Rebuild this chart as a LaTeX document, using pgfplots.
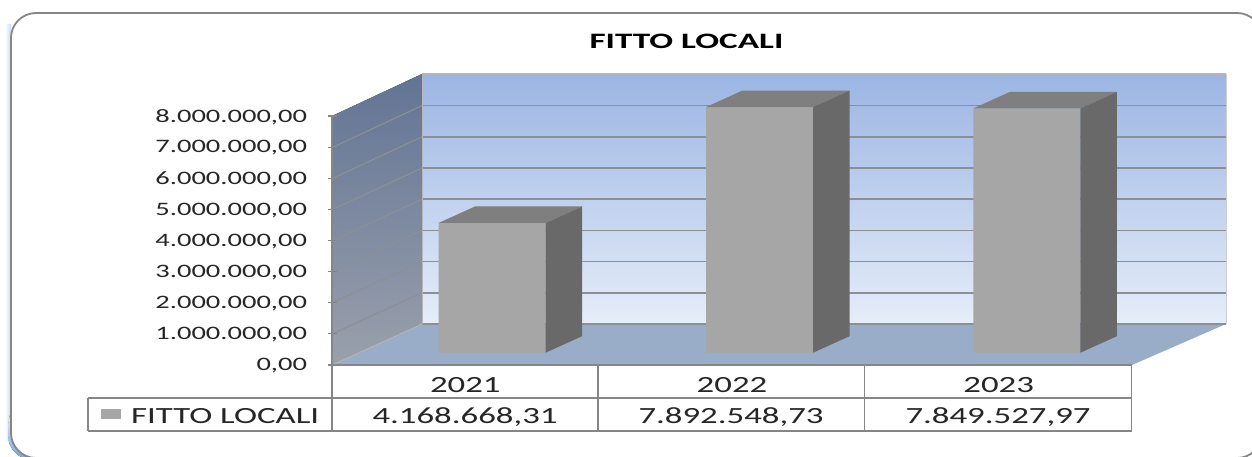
\documentclass[border=0pt]{standalone}
\usepackage{pgfplots}
\pgfplotsset{compat=1.18}
\usepackage{fontspec}
\setmainfont[FakeStretch=1.5]{Carlito}
\newfontface\titlefont[FakeStretch=1.6]{Carlito Bold}
\definecolor{wallT}{HTML}{9BB5E3}
\definecolor{wallB}{HTML}{E6EDF9}
\definecolor{sideT}{HTML}{627494}
\definecolor{sideB}{HTML}{9AA0AC}
\definecolor{floorC}{HTML}{9AADC8}
\definecolor{barF}{HTML}{A6A6A6}
\definecolor{barT}{HTML}{7F7F7F}
\definecolor{barS}{HTML}{696969}
\definecolor{gridC}{HTML}{868686}
\definecolor{gridL}{HTML}{8C8F96}
\definecolor{txt}{HTML}{262626}
\definecolor{glow}{HTML}{C9DAF1}
\definecolor{glowD}{HTML}{7AA6DE}
\newcommand{\tfont}{\fontsize{19}{22}\selectfont\color{txt}}
\newcommand{\vfont}{\fontsize{23.2}{26}\selectfont\color{txt}}
% the visible faces of a bar: front base lies 26.8px right of, 12.3px above the axis position
\newcommand{\barfaces}[2]{%
  \fill[barT] (axis cs:#1,#2) ++(-26.7pt,12.3pt) -- ++(107pt,0pt) -- ++(36.4pt,16.5pt) -- ++(-107pt,0pt) -- cycle;
  \fill[barS] (axis cs:#1,#2) ++(80.3pt,12.3pt) -- ++(36.4pt,16.5pt) -- ($(axis cs:#1,0)+(116.7pt,28.8pt)$) -- ++(-36.4pt,-16.5pt) -- cycle;
}
\usetikzlibrary{calc}
\begin{document}
\begin{tikzpicture}
\path[use as bounding box,clip] (0pt,0pt) rectangle (1252pt,456pt);
\begin{scope}[x=1pt,y=-1pt,shift={(0pt,456pt)}]
  \fill[white] (0,0) rectangle (1252,456);
  % frame
  \fill[left color=white,right color=glow] (5,25) rectangle (11,440);
  \fill[rounded corners=25pt,top color=white,bottom color=glowD] (8,400) rectangle (70,460);
  \filldraw[rounded corners=25pt,draw=gridC,line width=1.8pt,fill=white] (11,13) rectangle (1262,458);
  % back wall, side wall, floor
  \fill[top color=wallT,bottom color=wallB] (422,74) rectangle (1226,324);
  \fill[top color=sideT,bottom color=sideB] (332,116) -- (422,74) -- (422,324) -- (332,365) -- cycle;
  \fill[floorC] (332,365) -- (422,324) -- (1226,324) -- (1132,365) -- cycle;
  % gridlines
  \foreach \k in {1,...,7}{
    \draw[gridL,line width=1.6pt] (422,{324-31.2*\k}) -- (1226,{324-31.2*\k});
    \draw[gridL,line width=1.1pt] (332,{365-31.05*\k}) -- (422,{324-31.2*\k});
  }
  \draw[gridL,line width=1.6pt] (422,324) -- (1226,324);
  \draw[gridC!60,line width=1.2pt] (422,74) -- (1226,74);
  \draw[gridC!60,line width=.8pt] (422,74) -- (422,324);
  \draw[gridC!60,line width=.8pt] (332,365) -- (422,324);
  \draw[gridC!40,line width=.8pt] (1226,74) -- (1226,324);
  % title
  \node[font=\fontsize{22}{24}\titlefont,text=black,anchor=base] at (686.5,48.5) {FITTO LOCALI};
\end{scope}
\begin{axis}[
  at={(332pt,91pt)},anchor=south west,
  scale only axis,width=800pt,height=249pt,
  xmin=-0.5,xmax=2.5,ymin=0,ymax=8000000,
  clip=false,
  axis x line=bottom,axis y line=left,
  axis line style={-,draw=gridC,line width=1.2pt},
  xtick={0,1,2},xticklabels={2021,2022,2023},
  ytick={0,1000000,...,8000000},
  scaled y ticks=false,
  tick style={draw=gridC,line width=1.2pt},
  major tick length=9pt,
  x tick style={draw=none},
  xticklabel style={font=\vfont,anchor=base,yshift=-23pt},
  yticklabel style={font=\tfont,xshift=-17pt,yshift=-0.8pt,
    /pgf/number format/.cd,fixed,fixed zerofill,precision=2,1000 sep={.},dec sep={,},assume math mode=true},
]
\addplot[ybar,bar width=107pt,bar shift=26.8pt,yshift=12.3pt,fill=barF,draw=none] coordinates {(0,4168668.31) (1.003,7892548.73) (2.0056,7849527.97)};
\barfaces{0}{4168668.31}
\barfaces{1.003}{7892548.73}
\barfaces{2.0056}{7849527.97}
\end{axis}
\begin{scope}[x=1pt,y=-1pt,shift={(0pt,456pt)}]
  \draw[gridC,line width=1.8pt] (332,365) -- (1132,365);
  \draw[gridC,line width=1.8pt] (88,398) -- (1132,398) (88,431) -- (1132,431) (88,398) -- (88,431);
  \foreach \x in {332,598,864.5,1131.5} \draw[gridC,line width=1.8pt] (\x,365) -- (\x,431);
  \fill[barF] (101,409) rectangle (120.5,419);
  \node[font=\vfont,anchor=base west,inner sep=0pt] at (131,423.5) {FITTO LOCALI};
  \node[font=\vfont,anchor=base,inner sep=0pt] at (465,423.5) {4.168.668,31};
  \node[font=\vfont,anchor=base,inner sep=0pt] at (731,423.5) {7.892.548,73};
  \node[font=\vfont,anchor=base,inner sep=0pt] at (998,423.5) {7.849.527,97};
\end{scope}
\end{tikzpicture}
\end{document}
